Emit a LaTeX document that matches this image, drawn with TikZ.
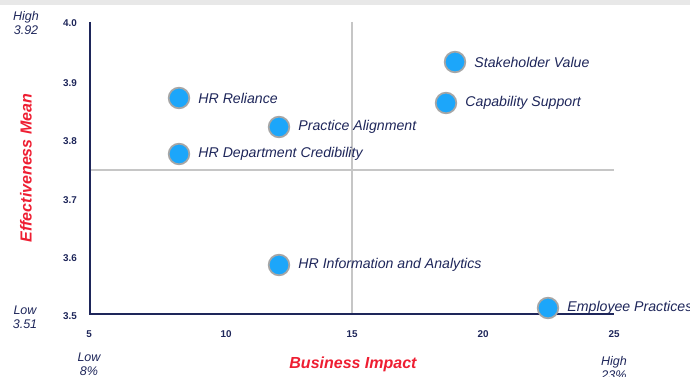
\documentclass[tikz,border=0pt]{standalone}
\usepackage{fontspec}
\setmainfont{Liberation Sans}
\usepackage{xcolor}
\usepackage{tikz}
\usetikzlibrary{positioning}

\definecolor{navy}{RGB}{30,38,90}
\definecolor{dotblue}{RGB}{28,166,250}
\definecolor{axisred}{RGB}{238,30,50}

\begin{document}
\begin{tikzpicture}[x=0.75pt, y=-0.75pt,
	dot/.style={circle, fill=dotblue, draw=gray!70, line width=1.3pt, minimum size=15.5pt, inner sep=0pt},
	lbl/.style={font=\itshape\fontsize{10.6}{12}\selectfont, text=navy, inner sep=0pt},
	tick/.style={font=\bfseries\fontsize{7.4}{9}\selectfont, text=navy},
	corner/.style={font=\itshape\fontsize{9.4}{10.5}\selectfont, text=navy, align=center, inner sep=0pt},
	title/.style={font=\bfseries\itshape\fontsize{12}{14}\selectfont, text=axisred}]
	\useasboundingbox (0,0) rectangle (690,377);
	\fill[gray!18] (0,0) rectangle (690,5);
	% axes and quadrant lines
	\coordinate (origin) at (90,314);
	\coordinate (ytop) at (90,22);
	\coordinate (xend) at (614,314);
	\coordinate (vtop) at (352,22);
	\coordinate (vbot) at (352,314);
	\coordinate (hleft) at (90,170);
	\coordinate (hright) at (614,170);
	\draw[gray!45, line width=0.8pt] (vtop) -- (vbot);
	\draw[gray!45, line width=0.8pt] (hleft) -- (hright);
	\draw[navy, line width=1.6pt] (ytop) -- (origin) -- (xend);
	% tick labels
	\foreach \v/\px in {5/89, 10/226, 15/352, 20/483, 25/614}
		\node[tick] at (\px,334) {\v};
	\foreach \v/\py in {4.0/23, 3.9/83, 3.8/141, 3.7/200, 3.6/258, 3.5/316}
		\node[tick] at (70,\py) {\v};
	% corner labels
	\node[corner] (yhigh) at (26,23) {High\\3.92};
	\node[corner] (ylow) at (25,317) {Low\\3.51};
	\node[corner] (xlow) at (89,364) {Low\\8\%};
	\node[corner] (xhigh) at (614,368) {High\\23\%};
	% axis titles
	\node[title, rotate=90] (ytitle) at (26,168) {Effectiveness Mean};
	\node[title] (xtitle) at (353,364) {Business Impact};
	% data points
	\node[dot] (stake) at (455,62) {};
	\node[lbl, right=6pt of stake] {Stakeholder Value};
	\node[dot] (capab) at (446,103) {};
	\node[lbl, right=6pt of capab] {Capability Support};
	\node[dot] (reli) at (179,98) {};
	\node[lbl, right=6pt of reli] {HR Reliance};
	\node[dot] (align) at (279,127) {};
	\node[lbl, right=6pt of align] {Practice Alignment};
	\node[dot] (cred) at (179,154) {};
	\node[lbl, right=6pt of cred] {HR Department Credibility};
	\node[dot] (analy) at (279,265) {};
	\node[lbl, right=6pt of analy] {HR Information and Analytics};
	\node[dot] (empl) at (548,308) {};
	\node[lbl, right=6pt of empl] {Employee Practices};
\end{tikzpicture}
\end{document}
